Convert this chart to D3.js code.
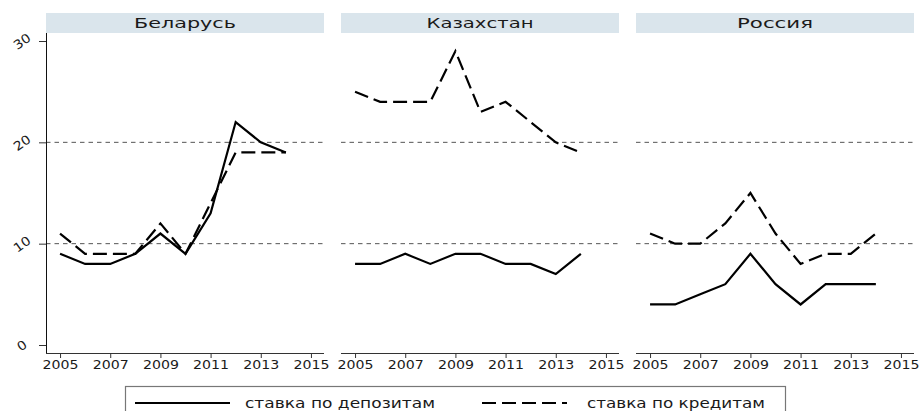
<!DOCTYPE html>
<html>
<head>
<meta charset="utf-8">
<script src="https://cdn.jsdelivr.net/npm/d3@7"></script>
<style>
  body { margin: 0; background: #fff; }
  text { font-family: "DejaVu Sans", "Liberation Sans", Arial, sans-serif; fill: #1a1a1a; }
</style>
</head>
<body>
<div id="chart"></div>
<script>
// data
const years = [2005, 2006, 2007, 2008, 2009, 2010, 2011, 2012, 2013, 2014];
const countries = ["Беларусь", "Казахстан", "Россия"];
const depositBY = [9, 8, 8, 9, 11, 9, 13, 22, 20, 19];
const creditBY  = [11, 9, 9, 9, 12, 9, 14, 19, 19, 19];
const depositKZ = [8, 8, 9, 8, 9, 9, 8, 8, 7, 9];
const creditKZ  = [25, 24, 24, 24, 29, 23, 24, 22, 20, 19];
const depositRU = [4, 4, 5, 6, 9, 6, 4, 6, 6, 6];
const creditRU  = [11, 10, 10, 12, 15, 11, 8, 9, 9, 11];
const xTicks = [2005, 2007, 2009, 2011, 2013, 2015];
const yTicks = [0, 10, 20, 30];
const gridVals = [10, 20];
const seriesNames = ["ставка по депозитам", "ставка по кредитам"];

const panels = [
  { name: countries[0], dep: depositBY, cred: creditBY, tl: 102 },
  { name: countries[1], dep: depositKZ, cred: creditKZ, tl: 107 },
  { name: countries[2], dep: depositRU, cred: creditRU, tl: 76 }
];

let width = 921, height = 411;
let panelLefts = [46, 341, 636], panelW = 278, headTop = 13, headH = 20;
let plotTop = 33, plotBottom = 353;
let credDash = "14,6";

let svg = d3.select("#chart").append("svg")
    .attr("width", width)
    .attr("height", height);

let y = d3.scaleLinear().domain([0, 30]).range([345, 41]);

panels.forEach(function(p, i) {
    let left = panelLefts[i];
    let x = d3.scaleLinear().domain([2004.44, 2015.52]).range([left, left + panelW]);
    let g = svg.append("g");

    // header strip
    g.append("rect")
        .attr("x", left).attr("y", headTop)
        .attr("width", panelW).attr("height", headH)
        .attr("fill", "#dae5ec");
    g.append("text")
        .attr("x", left + panelW / 2).attr("y", headTop + 15)
        .attr("text-anchor", "middle")
        .attr("textLength", p.tl)
        .attr("lengthAdjust", "spacingAndGlyphs")
        .style("font-size", "14.5px")
        .text(p.name);

    // dashed reference lines
    g.selectAll(".grid").data(gridVals).enter().append("line")
        .attr("x1", left).attr("x2", left + panelW)
        .attr("y1", d => y(d)).attr("y2", d => y(d))
        .attr("stroke", "#555").attr("stroke-width", 1)
        .attr("stroke-dasharray", "4.5,4");

    // x axis
    let xAxis = d3.axisBottom(x).tickValues(xTicks).tickFormat(d3.format("d"))
        .tickSize(5).tickSizeOuter(0).tickPadding(3);
    let ax = g.append("g").attr("transform", "translate(0," + plotBottom + ")").call(xAxis);
    ax.select(".domain").attr("stroke", "#333").attr("d", "M" + left + ",0.5H" + (left + panelW));
    ax.selectAll(".tick line").attr("stroke", "#333");
    ax.selectAll(".tick text")
        .style("font-size", "11.5px")
        .attr("fill", "#1a1a1a")
        .attr("textLength", 36)
        .attr("lengthAdjust", "spacingAndGlyphs");

    // y axis on first panel only
    if (i === 0) {
        let yAxis = d3.axisLeft(y).tickValues(yTicks).tickSize(7).tickSizeOuter(0).tickPadding(5);
        let ay = g.append("g").attr("transform", "translate(" + left + ",0)").call(yAxis);
        ay.select(".domain").attr("stroke", "#111").attr("d", "M0.5," + plotTop + "V" + plotBottom);
        ay.selectAll(".tick line").attr("stroke", "#333");
        ay.selectAll(".tick text")
            .style("font-size", "12.5px")
            .attr("fill", "#1a1a1a")
            .attr("text-anchor", "middle")
            .attr("x", -24)
            .attr("dy", "0.35em")
            .attr("textLength", d => d === 0 ? 9 : 18)
            .attr("lengthAdjust", "spacingAndGlyphs")
            .attr("transform", "rotate(-35,-24,0)");
    }

    let line = d3.line().x((d, j) => x(years[j])).y(d => y(d));

    g.append("path").datum(p.cred)
        .attr("d", line)
        .attr("fill", "none").attr("stroke", "#000").attr("stroke-width", 2.2)
        .attr("stroke-dasharray", credDash);
    g.append("path").datum(p.dep)
        .attr("d", line)
        .attr("fill", "none").attr("stroke", "#000").attr("stroke-width", 2.2);
});

// legend
let lg = svg.append("g");
lg.append("rect")
    .attr("x", 125.5).attr("y", 386.5)
    .attr("width", 660).attr("height", 40)
    .attr("fill", "none").attr("stroke", "#777").attr("stroke-width", 1.2);

let legendItems = [
    { name: seriesNames[0], x1: 135, x2: 230, tx: 245, tl: 190, dash: null },
    { name: seriesNames[1], x1: 482, x2: 567, tx: 587, tl: 178, dash: credDash }
];
legendItems.forEach(function(d) {
    lg.append("line")
        .attr("x1", d.x1).attr("x2", d.x2)
        .attr("y1", 403).attr("y2", 403)
        .attr("stroke", "#000").attr("stroke-width", 2.2)
        .attr("stroke-dasharray", d.dash);
    lg.append("text")
        .attr("x", d.tx).attr("y", 408)
        .attr("textLength", d.tl)
        .attr("lengthAdjust", "spacingAndGlyphs")
        .style("font-size", "13.5px")
        .text(d.name);
});
</script>
</body>
</html>
